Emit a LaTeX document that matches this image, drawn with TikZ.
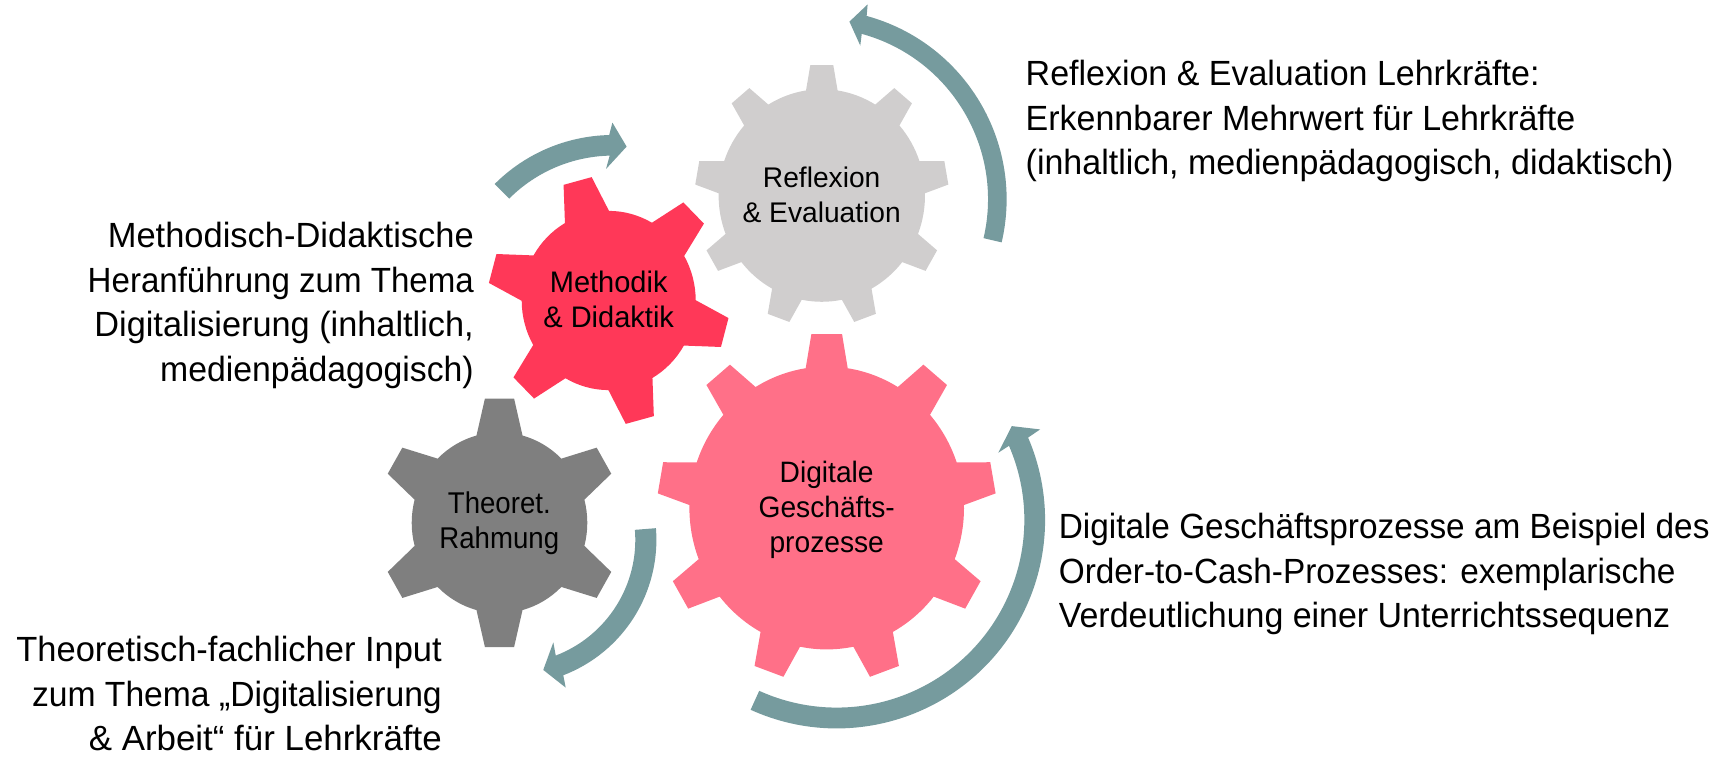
\documentclass[tikz,border=0pt]{standalone}
\usepackage{fontspec}
\setmainfont{Liberation Sans}
\definecolor{tealarrow}{HTML}{769B9E}
\definecolor{gearpink}{HTML}{FF7088}
\definecolor{gearred}{HTML}{FF3858}
\definecolor{gearlight}{HTML}{D0CECE}
\definecolor{geardark}{HTML}{7F7F7F}
% cx cy r tipR n rot baseHalf tipHalf colour
\newcommand\gearshape[9]{%
  \begin{scope}[shift={(#1,758-#2)},yscale=1.03]
    \pgfmathsetmacro\gearstep{360/#5}
    \pgfmathtruncatemacro\gearlast{#5-1}
    \fill[#9] (#6-#7:#3)
      \foreach \k [evaluate=\k as \a using #6+\k*\gearstep] in {0,...,\gearlast} {
        -- ({\a-#7}:#3) -- ({\a-#8}:#4) -- ({\a+#8}:#4) -- ({\a+#7}:#3)
        arc[start angle={\a+#7},end angle={\a+\gearstep-#7},radius=#3]
      } -- cycle;
  \end{scope}}
\newcommand\blockarc[6]{\begin{scope}[shift={(#1,758-#2)}]
  \fill[tealarrow] (#5:#3) arc[start angle=#5,end angle=#6,radius=#3] \blockhead (#6:#4) arc[start angle=#6,end angle=#5,radius=#4] -- cycle;
\end{scope}}
\newcommand\ls[2]{{\addfontfeature{FakeStretch=#1}#2}}
\tikzset{
  gearlabel/.style 2 args={align=center,inner sep=0pt,font=\fontsize{#1}{35}\selectfont\addfontfeature{FakeStretch=#2},text=black},
  textlabel/.style={inner sep=0pt,font=\fontsize{35}{44.6}\selectfont\addfontfeature{FakeStretch=#1},text=black},
}
\begin{document}
\begin{tikzpicture}[x=1pt,y=1pt]
\useasboundingbox (0,0) rectangle (1729,758);
\gearshape{821.8}{195.5}{103.2}{127}{9}{90}{8.8}{5.2}{gearlight}
\gearshape{826.7}{508}{137.3}{169.5}{9}{90}{8.8}{5.2}{gearpink}
\gearshape{499.5}{522.8}{87.8}{121.5}{6}{90}{15.2}{6.9}{geardark}
\gearshape{608.7}{300.5}{87}{121}{6}{105}{15.2}{6.9}{gearred}

\def\blockhead{-- (24:222.7) -- (28.2:198.7) -- (22.6:175) --}
\blockarc{836.7}{520}{208.4}{187.6}{-114.4}{23.3}
\def\blockhead{-- (75.3:201.5) -- (79.5:180.7) -- (74.1:159.8) --}
\blockarc{816.5}{199.3}{190.1}{171.5}{-13.1}{74.7}
\def\blockhead{-- (-69.8:157.5) -- (-76.2:134) -- (-67.7:110.8) --}
\blockarc{511.3}{539.8}{145.1}{124}{4.6}{-69}
\def\blockhead{-- (90.2:179.7) -- (85:156.3) -- (93:133.5) --}
\blockarc{613}{302.3}{167.3}{146.7}{135}{91.3}

\node[gearlabel={28.4}{.992}] (refl) at (821.7,758-195) {Reflexion\\\& Evaluation};
\node[gearlabel={29.5}{.955}] (digi) at (826.7,758-510) {Digitale\\Geschäfts-\\prozesse};
\node[gearlabel={30}{.92}] (theo) at (499.3,758-523) {Theoret.\\Rahmung};
\node[gearlabel={29.7}{.977}] (meth) at (608.7,758-299) {Methodik\\\& Didaktik};

\node[textlabel=.971,align=left,anchor=north west] (t1) at (1025.5,758-60) {Reflexion \& Evaluation Lehrkräfte:\\Erkennbarer Mehrwert für Lehrkräfte\\(inhaltlich, medienpädagogisch, didaktisch)};
\node[textlabel=.985,align=right,anchor=north east] (t2) at (474,758-222) {Methodisch-Didaktische\\\ls{.945}{Heranführung zum Thema}\\\ls{.98}{Digitalisierung (inhaltlich,}\\\ls{.965}{medienpädagogisch)}};
\node[textlabel=.953,align=left,anchor=north west] (t3) at (1058.6,758-513) {Digitale Geschäftsprozesse am Beispiel des\\Order-to-Cash-Prozesses: exemplarische\\\ls{.97}{Verdeutlichung einer Unterrichtssequenz}};
\node[textlabel=.985,align=right,anchor=north east] (t4) at (442,758-636) {Theoretisch-fachlicher Input\\\ls{.962}{zum Thema „Digitalisierung}\\\ls{.997}{\& Arbeit“ für Lehrkräfte}};
\end{tikzpicture}
\end{document}
